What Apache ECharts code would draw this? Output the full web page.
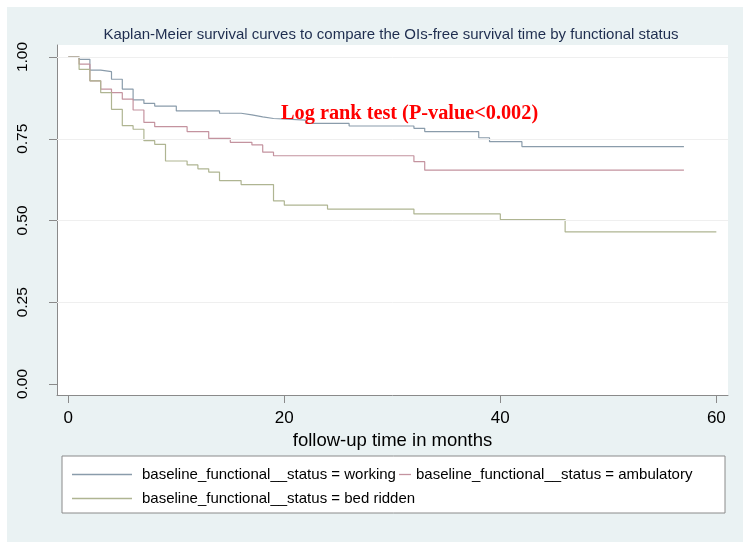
<!DOCTYPE html>
<html><head><meta charset="utf-8">
<script src="https://cdn.jsdelivr.net/npm/echarts@6/dist/echarts.min.js"></script>
<style>
html,body{margin:0;padding:0;background:#fff;}
#bg{position:absolute;left:7px;top:7px;width:736px;height:535px;background:#eaf2f3;}
#c{position:absolute;left:0;top:0;width:750px;height:549px;}
</style>
</head><body><div id="bg"></div><div id="c"></div>
<script>
// ---- text ----
const titleText = 'Kaplan-Meier survival curves to compare the OIs-free survival time by functional status';
const annotationText = 'Log rank test (P-value<0.002)';
const xAxisTitle = 'follow-up time in months';
const seriesNames = [
  'baseline_functional__status = working',
  'baseline_functional__status = ambulatory',
  'baseline_functional__status = bed ridden'
];
// ---- data (time in months, survival probability after each step) ----
const workingTime = [0,1,2,3,4,5,6,7,8,10,14,16,17,18,19,22,26,32,33,38,39,42,57];
const workingSurv = [1,0.993,0.960,0.955,0.932,0.902,0.869,0.858,0.850,0.835,0.828,0.823,0.817,0.812,0.807,0.797,0.789,0.782,0.772,0.753,0.741,0.726,0.726];
const ambulatoryTime = [0,1,2,3,4,5,6,7,8,11,13,15,17,18,19,32,33,57];
const ambulatorySurv = [1,0.978,0.927,0.902,0.891,0.871,0.838,0.800,0.787,0.772,0.751,0.739,0.731,0.709,0.698,0.680,0.654,0.654];
const bedriddenTime = [0,1,2,3,4,5,6,7,8,9,11,12,13,14,16,19,20,24,32,40,46,60];
const bedriddenSurv = [1,0.962,0.927,0.891,0.840,0.790,0.779,0.744,0.733,0.682,0.670,0.658,0.648,0.622,0.610,0.560,0.547,0.535,0.520,0.503,0.465,0.465];
// ---- ticks ----
const xTicks = [0,20,40,60];
const yTicks = [0,0.25,0.5,0.75,1];
const yGridTicks = [0.25,0.5,0.75,1];

const colors = ['#8a9cab','#c4939f','#afb592'];
const zip = (t,s) => t.map((v,i)=>[v,s[i]]);
const FONT = 'Liberation Sans, Arial, sans-serif';

const chart = echarts.init(document.getElementById('c'), null, {renderer:'canvas'});
const legendText = {fontSize:15, color:'#000', fontFamily:FONT};
const legendBase = {
  orient:'horizontal', selectedMode:false, padding:0, icon:'rect', itemHeight:1.3
};
chart.setOption({
  animation:false,
  textStyle:{fontFamily:FONT},
  grid:{left:57, right:22, top:45, bottom:154, show:true, backgroundColor:'#ffffff', borderWidth:0},
  xAxis:{
    type:'value', min:-1.046, max:61.08,
    axisLine:{show:true, onZero:false, lineStyle:{color:'#8a8a8a', width:1}},
    axisTick:{show:true, customValues:xTicks, length:8, lineStyle:{color:'#8a8a8a'}},
    axisLabel:{customValues:xTicks, fontSize:17, color:'#000', margin:15, fontFamily:FONT},
    splitLine:{show:false},
    name:xAxisTitle, nameLocation:'middle', nameGap:36,
    nameTextStyle:{fontSize:18.5, color:'#000', fontFamily:FONT}
  },
  yAxis:{
    type:'value', min:-0.0336, max:1.0367,
    axisLine:{show:true, onZero:false, lineStyle:{color:'#8a8a8a', width:1}},
    axisTick:{show:true, customValues:yTicks, length:8, lineStyle:{color:'#8a8a8a'}},
    axisLabel:{customValues:yTicks, rotate:90, fontSize:15.5, color:'#000', margin:26,
      formatter:v=>v.toFixed(2), fontFamily:FONT},
    splitLine:{show:false}
  },
  legend:[
    Object.assign({}, legendBase, {data:[seriesNames[0]], left:72, top:467, itemWidth:60,
      textStyle:Object.assign({}, legendText, {padding:[0,0,0,5]})}),
    Object.assign({}, legendBase, {data:[seriesNames[1]], left:399, top:467, itemWidth:12,
      textStyle:legendText}),
    Object.assign({}, legendBase, {data:[seriesNames[2]], left:72, top:491, itemWidth:60,
      textStyle:Object.assign({}, legendText, {padding:[0,0,0,5]})})
  ],
  graphic:[
    {type:'rect', shape:{x:62, y:456, width:663, height:57}, z:-1,
      style:{fill:'#ffffff', stroke:'#8a8a8a', lineWidth:1}},
    {type:'text', x:391, y:35, style:{text:titleText, fill:'#1e2d4f', textAlign:'center', textVerticalAlign:'middle',
      font:'15px ' + FONT}},
    {type:'text', x:281, y:114, z:10, style:{text:annotationText, fill:'#ff0000', textAlign:'left', textVerticalAlign:'middle',
      font:'bold 20.3px "Liberation Serif", "Times New Roman", serif'}}
  ],
  series:[
    {type:'line', name:'_grid', data:[], silent:true,
      markLine:{silent:true, symbol:'none', label:{show:false},
        lineStyle:{color:'#efefef', width:1, type:'solid'},
        data:yGridTicks.map(v=>({yAxis:v}))}},
    {type:'line', name:seriesNames[0], step:'end', symbol:'none', showSymbol:false,
      data:zip(workingTime, workingSurv), lineStyle:{width:1.2, color:colors[0]}, itemStyle:{color:colors[0]}},
    {type:'line', name:seriesNames[1], step:'end', symbol:'none', showSymbol:false,
      data:zip(ambulatoryTime, ambulatorySurv), lineStyle:{width:1.2, color:colors[1]}, itemStyle:{color:colors[1]}},
    {type:'line', name:seriesNames[2], step:'end', symbol:'none', showSymbol:false,
      data:zip(bedriddenTime, bedriddenSurv), lineStyle:{width:1.2, color:colors[2]}, itemStyle:{color:colors[2]}}
  ]
});
</script>
</body></html>
